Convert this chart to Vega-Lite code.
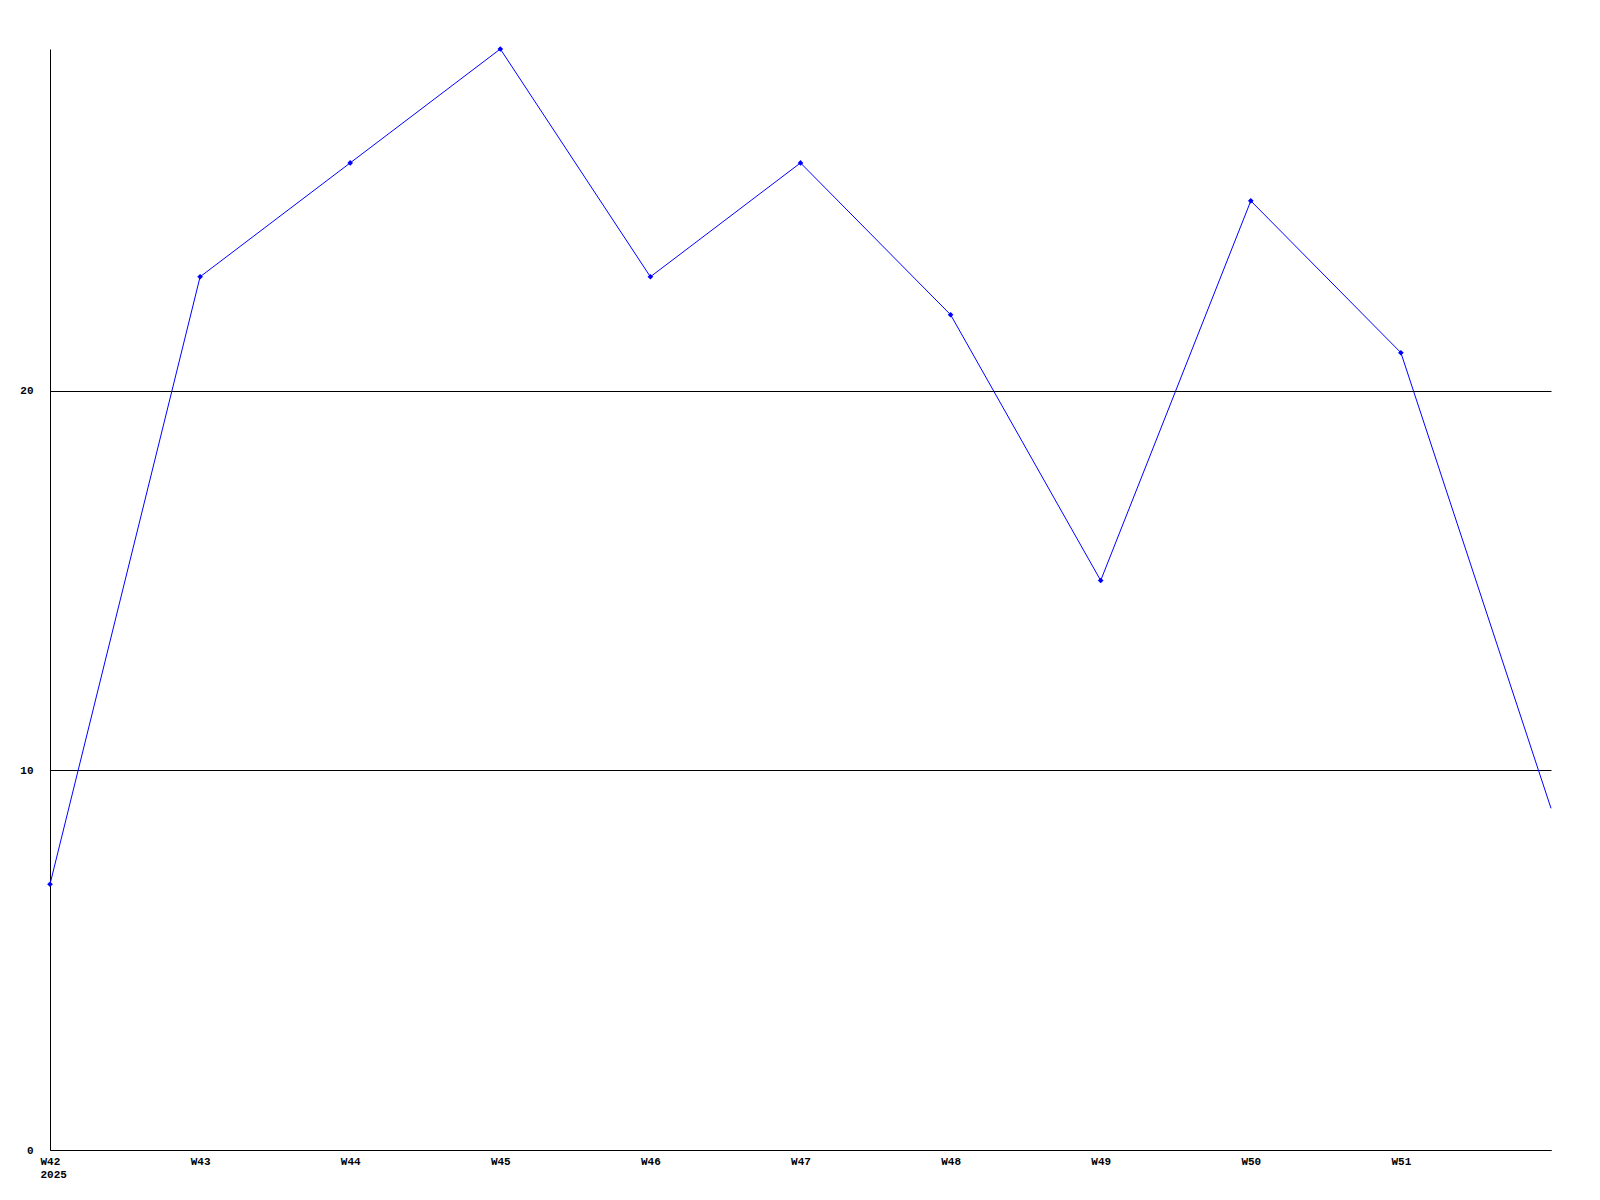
{
  "$schema": "https://vega.github.io/schema/vega-lite/v6.json",
  "autosize": "none",
  "width": 1501,
  "height": 1101,
  "padding": {"left": 50, "top": 49, "right": 49, "bottom": 50},
  "background": "white",
  "config": {"view": {"stroke": null}},
  "data": {"values": [
    {"week": 42, "value": 7},
    {"week": 43, "value": 23},
    {"week": 44, "value": 26},
    {"week": 45, "value": 29},
    {"week": 46, "value": 23},
    {"week": 47, "value": 26},
    {"week": 48, "value": 22},
    {"week": 49, "value": 15},
    {"week": 50, "value": 25},
    {"week": 51, "value": 21},
    {"week": 52, "value": 9}
  ]},
  "encoding": {
    "x": {"field": "week", "type": "quantitative",
      "scale": {"domain": [42, 52], "nice": false, "zero": false},
      "axis": {"title": null, "values": [42,43,44,45,46,47,48,49,50,51], "grid": false, "ticks": false,
        "domainColor": "black", "labelColor": "black", "labelFont": "Liberation Mono", "labelFontWeight": "bold", "labelFontSize": 11,
        "labelPadding": 5, "labelFlush": false,
        "labelAlign": {"condition": {"test": "datum.value == 42", "value": "left"}, "value": "center"},
        "labelOffset": {"condition": {"test": "datum.value == 42", "value": -10}, "value": 0},
        "labelExpr": "datum.value == 42 ? ['W42', '2025'] : 'W' + datum.value"}},
    "y": {"field": "value", "type": "quantitative",
      "scale": {"domain": [0, 29], "nice": false},
      "axis": {"title": null, "values": [0, 10, 20], "grid": true, "gridColor": "black", "gridOpacity": 1, "ticks": false,
        "domainColor": "black", "labelColor": "black", "labelFont": "Liberation Mono", "labelFontWeight": "bold", "labelFontSize": 11,
        "labelPadding": 17}}
  },
  "layer": [
    {"mark": {"type": "line", "color": "#0000ff", "strokeWidth": 1}},
    {"transform": [{"filter": "datum.week < 52"}],
     "mark": {"type": "point", "shape": "diamond", "filled": true, "color": "#0000ff", "size": 32, "opacity": 1}}
  ]
}
